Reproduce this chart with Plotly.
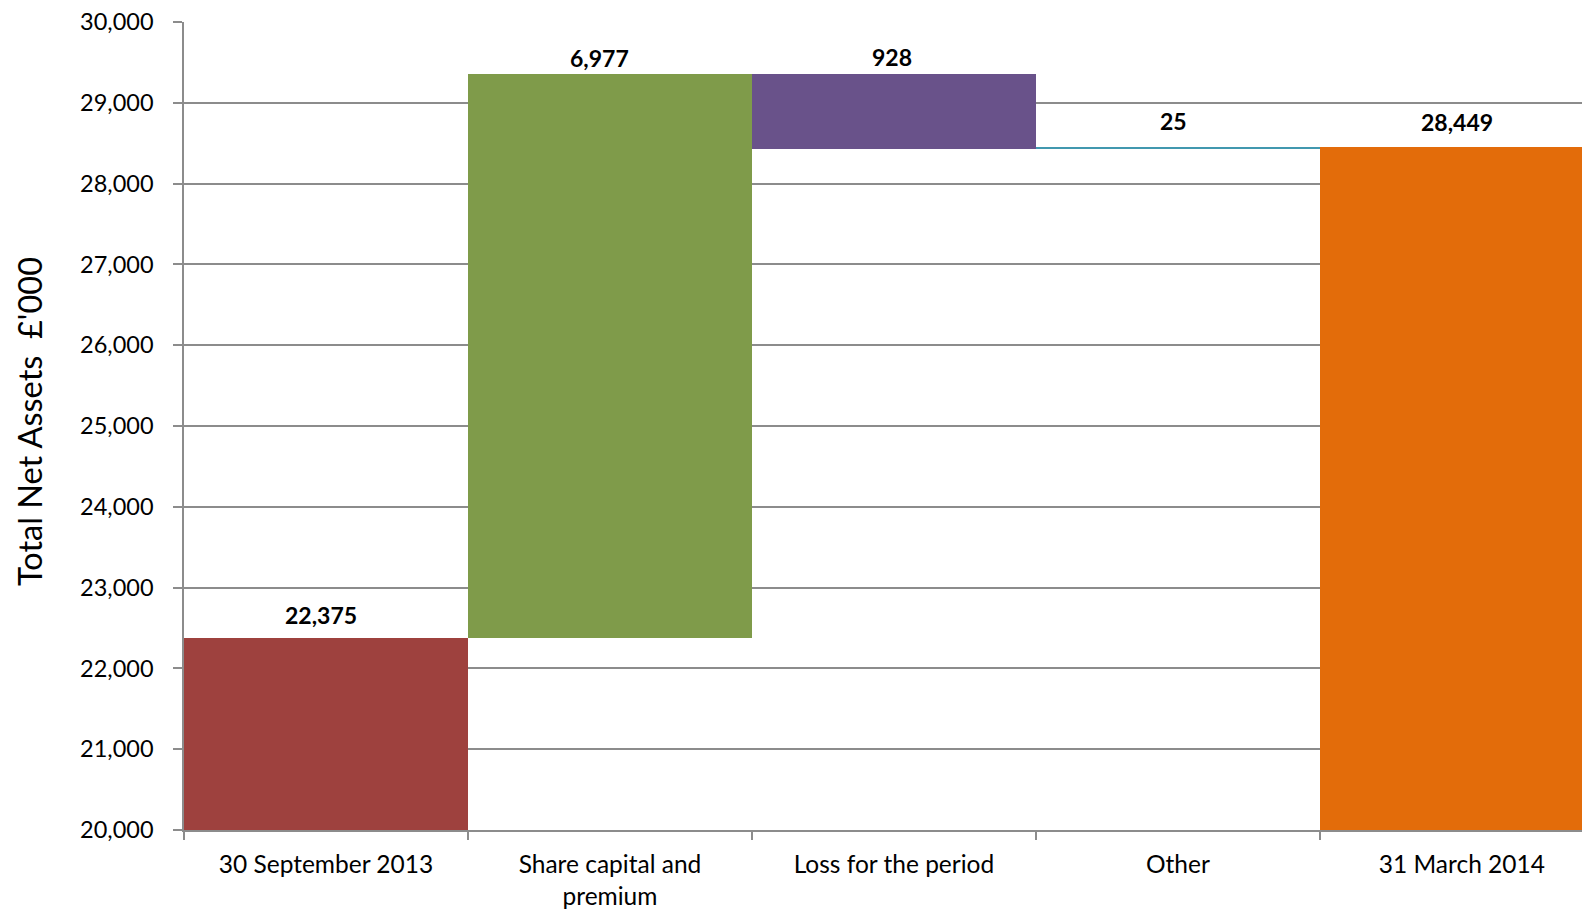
import plotly.graph_objects as go

# Net asset movement, £'000
categories = ['30 September 2013', 'Share capital and<br>premium', 'Loss for the period', 'Other', '31 March 2014']
opening = 22375
changes = [6977, -928, 25]
closing = 28449
labels = ['22,375', '6,977', '928', '25', '28,449']
colors = ['#9E413E', '#7F9B4A', '#69528A', '#4198AF', '#E36C0A']

# build bases / heights for the floating bars
axis_floor = 20000
bases = [axis_floor]
heights = [opening - axis_floor]
running = opening
for c in changes:
    if c >= 0:
        bases.append(running)
        heights.append(c)
    else:
        bases.append(running + c)
        heights.append(-c)
    running += c
bases.append(axis_floor)
heights.append(closing - axis_floor)

fig = go.Figure(go.Bar(
    x=categories, y=heights, base=bases,
    marker=dict(color=colors, line=dict(width=0)),
    hoverinfo='skip',
))

# value labels above each bar (pixel nudges to mimic the original placement)
label_dx = [-5, -10, -2, -4, -5]
label_dy = [23, 16, 17, 26, 25]
for cat, b, h, lab, dx, dy in zip(categories, bases, heights, labels, label_dx, label_dy):
    fig.add_annotation(
        x=cat, y=b + h, text=f'<b>{lab}</b>', showarrow=False,
        yanchor='middle', yshift=dy, xshift=dx,
        font=dict(family='Lato', size=23, color='black'),
    )

# page body adds 8px around the figure
fig.update_layout(
    width=1574, height=904,
    margin=dict(l=176, r=0, t=14, b=82),
    paper_bgcolor='white', plot_bgcolor='white',
    bargap=0, showlegend=False,
    font=dict(family='Lato', size=24, color='black'),
)
fig.add_annotation(
    text="Total Net Assets  £'000", textangle=-90,
    xref='paper', yref='paper', x=-154 / 1398, y=0.505,
    xanchor='center', yanchor='middle', showarrow=False,
    font=dict(family='Lato', size=32.5, color='black'),
)
fig.update_xaxes(
    range=[-0.5, 4.423], tickson='boundaries', ticks='outside', ticklen=8,
    tickcolor='#8c8c8c', tickwidth=1.5, showline=True, linecolor='#8c8c8c',
    linewidth=1.5, showgrid=False, tickfont=dict(size=24.5),
    ticklabelstandoff=12, automargin=False,
)
fig.update_yaxes(
    range=[20000, 30000], dtick=1000, tickformat=',d', ticks='outside',
    ticklen=9, tickcolor='#8c8c8c', tickwidth=1.5, showline=True,
    linecolor='#8c8c8c', linewidth=1.5, showgrid=True, gridcolor='#8c8c8c',
    gridwidth=1.5, zeroline=False, ticklabelstandoff=15, tickfont=dict(size=23.5),
    automargin=False, ticklabeloverflow='allow',
)

fig.write_html('out.html')
